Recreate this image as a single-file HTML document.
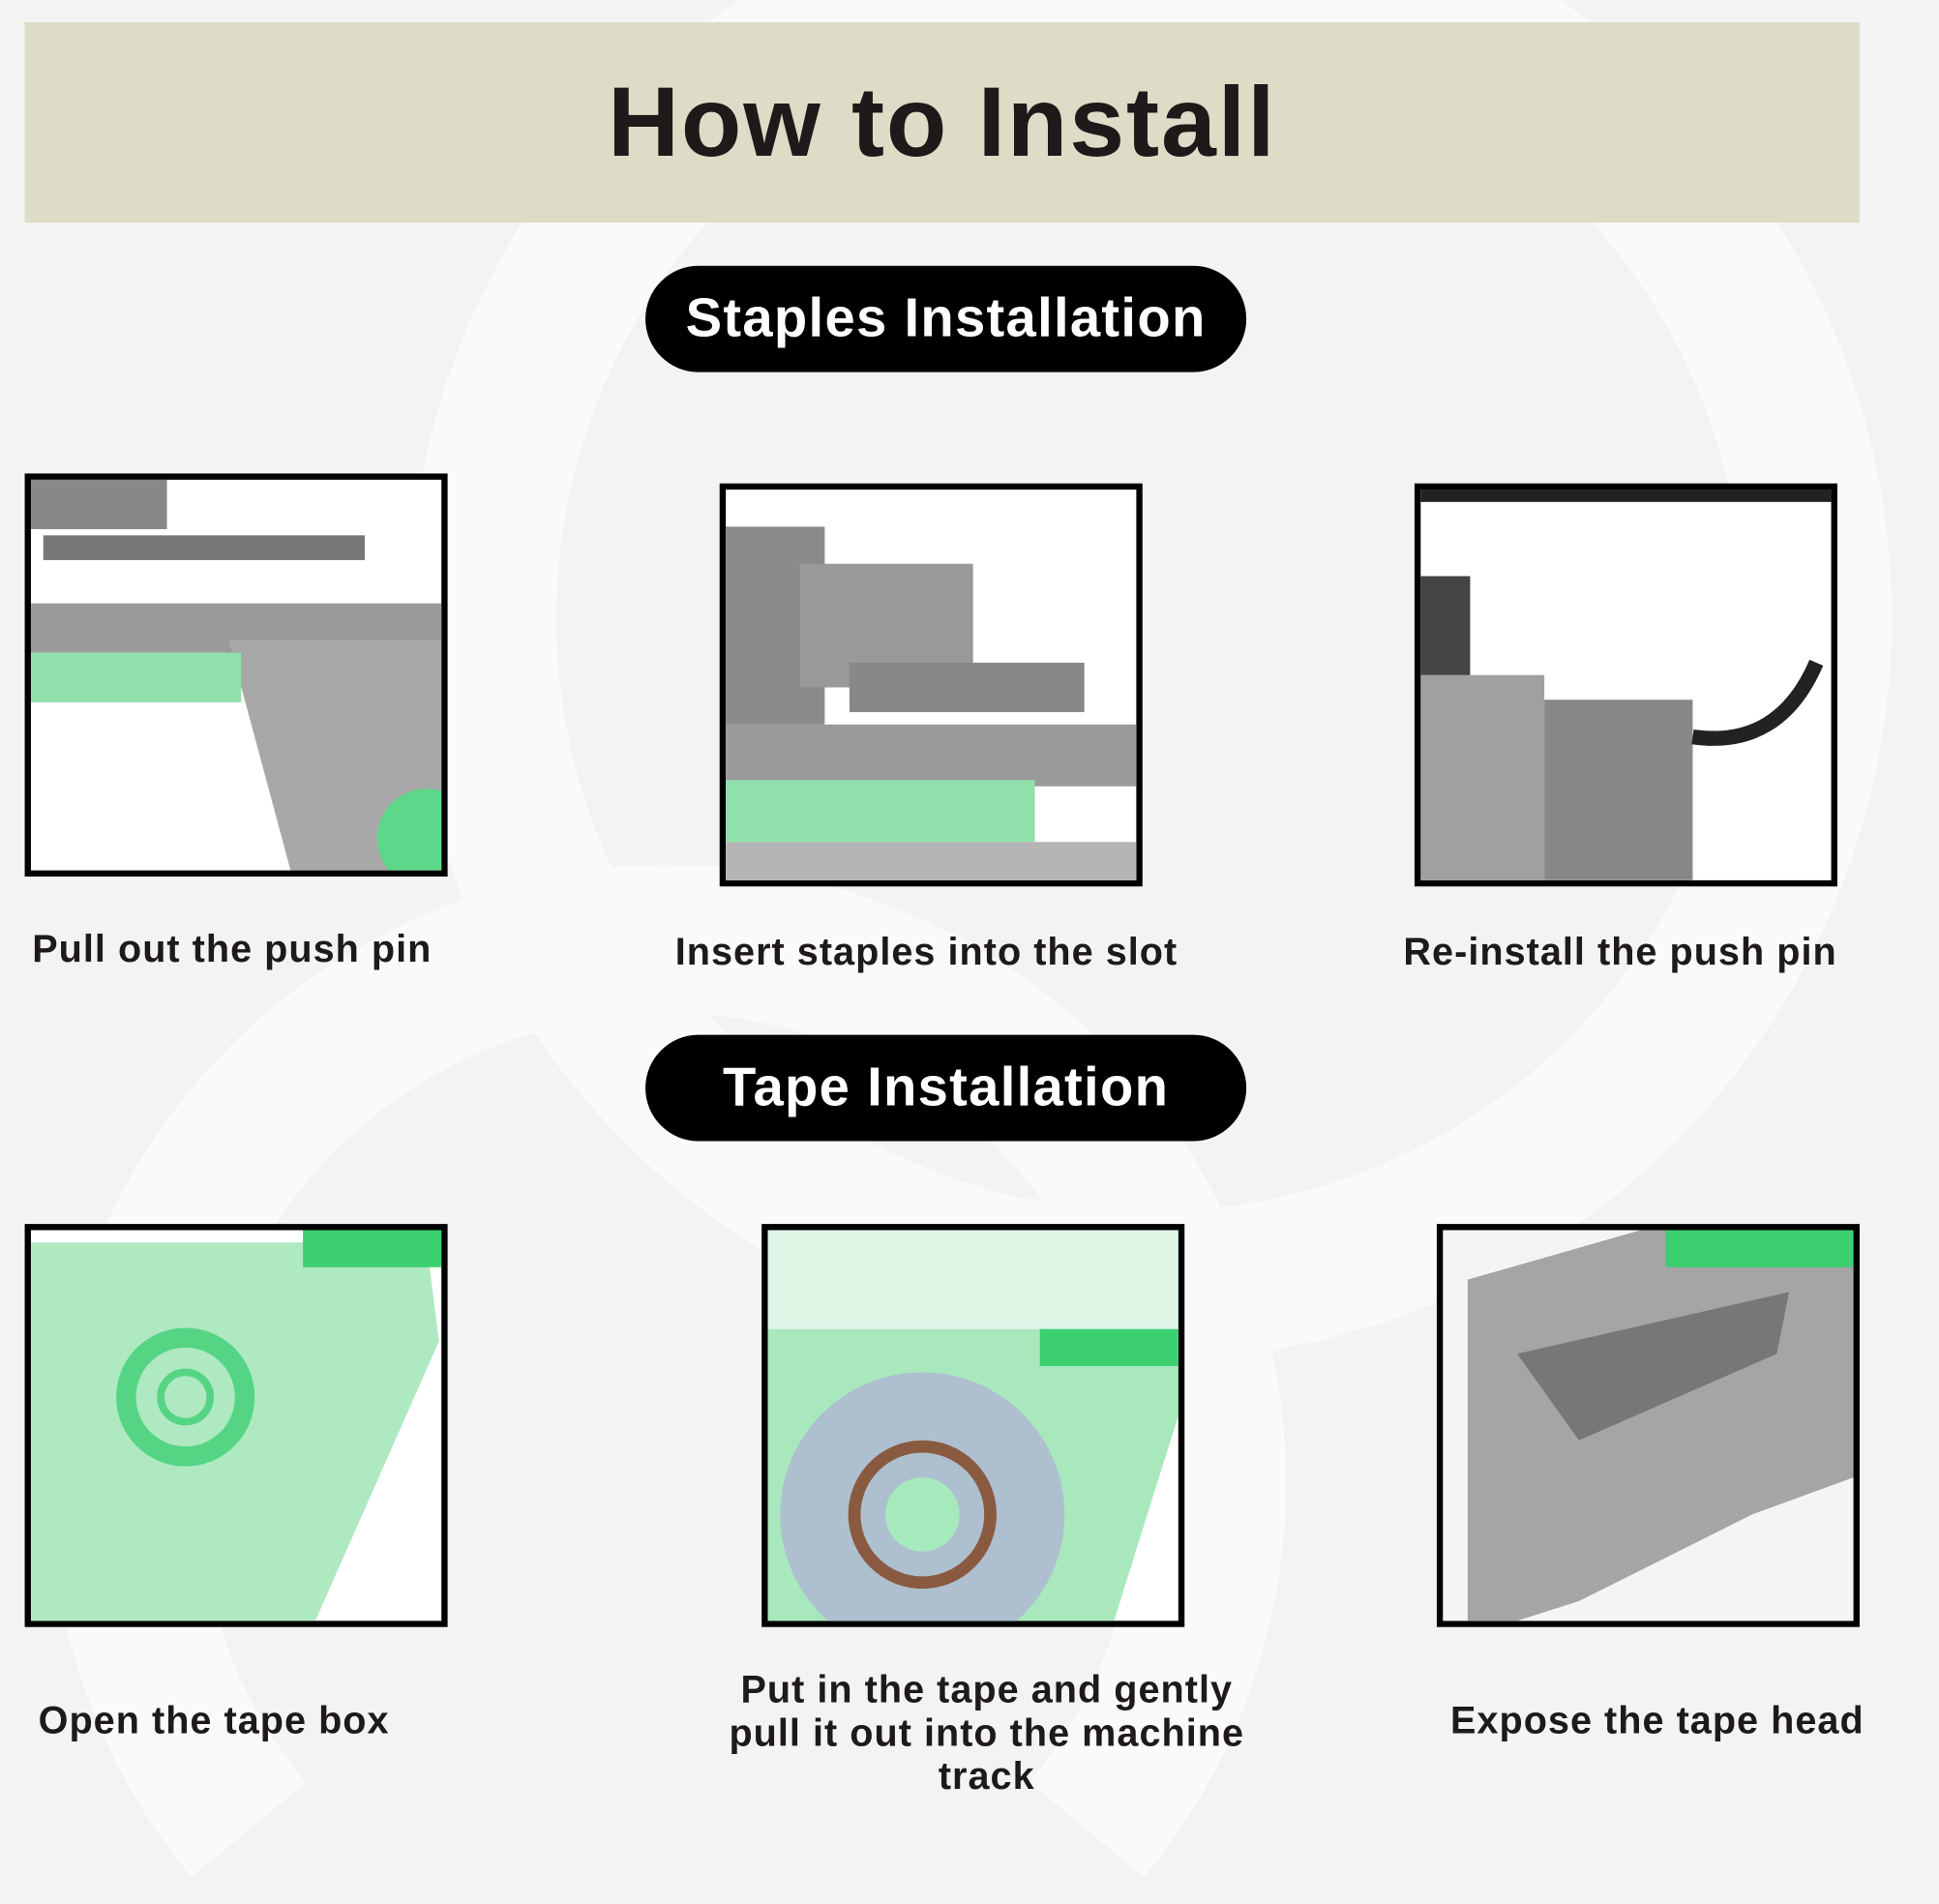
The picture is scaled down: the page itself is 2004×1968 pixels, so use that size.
<!DOCTYPE html>
<html><head><meta charset="utf-8"><style>
html,body{margin:0;padding:0;width:2004px;height:1968px;overflow:hidden;background:#f3f3f3}
#w{position:relative;width:2004px;height:1968px;overflow:hidden}
#s{position:absolute;left:0;top:0;width:1568px;height:1540px;transform:scale(1.2779,1.2779);transform-origin:0 0;font-family:"Liberation Sans",sans-serif;font-weight:bold;color:#1e1a1a;overflow:hidden}
.a{position:absolute}
.hdr{left:20px;top:18px;width:1484px;height:162px;background:#dcdcc7;text-align:center;line-height:162px;font-size:80px;letter-spacing:1.5px}
.pill{left:522px;width:486px;height:86px;background:#000;border-radius:43px;color:#fff;text-align:center;line-height:86px;font-size:44px;letter-spacing:1px}
.box{border:5px solid #000;background:#fff;overflow:hidden;box-sizing:border-box;width:342px;height:326px}
.cap{font-size:31px;white-space:nowrap;letter-spacing:0.8px}
</style></head><body><div id="w"><div id="s">
<svg class="a" style="left:0;top:0" width="1568" height="1540"><circle cx="930" cy="500" r="540" fill="none" stroke="#fafafa" stroke-width="120"/><path d="M201 1480 A440 440 0 1 1 879 1480" fill="none" stroke="#fafafa" stroke-width="120"/></svg>
<div class="a hdr">How to Install</div>
<div class="a pill" style="top:215px">Staples Installation</div>
<div class="a pill" style="top:837px">Tape Installation</div>

<div class="a box" style="left:20px;top:383px"><svg width="332" height="316"><rect x="0" y="100" width="332" height="40" fill="#9a9a9a"/><polygon points="160,130 332,130 332,316 210,316" fill="#a8a8a8"/><rect x="0" y="140" width="170" height="40" fill="#8fe0aa"/><rect x="10" y="45" width="260" height="20" fill="#777"/><rect x="0" y="0" width="110" height="40" fill="#888"/><circle cx="320" cy="290" r="40" fill="#5dd88a"/></svg></div>
<div class="a box" style="left:582px;top:391px"><svg width="332" height="316"><rect x="0" y="30" width="80" height="160" fill="#8a8a8a"/><rect x="60" y="60" width="140" height="100" fill="#999"/><rect x="100" y="140" width="190" height="40" fill="#888"/><rect x="0" y="190" width="332" height="50" fill="#9a9a9a"/><rect x="0" y="235" width="250" height="50" fill="#8fe0aa"/><polygon points="0,285 332,285 332,316 0,316" fill="#b5b5b5"/></svg></div>
<div class="a box" style="left:1144px;top:391px"><svg width="332" height="316"><rect x="0" y="0" width="332" height="10" fill="#222"/><rect x="0" y="150" width="100" height="166" fill="#a0a0a0"/><rect x="100" y="170" width="120" height="146" fill="#888"/><path d="M220 200 Q290 210 320 140" stroke="#222" stroke-width="12" fill="none"/><rect x="0" y="70" width="40" height="80" fill="#444"/></svg></div>

<div class="a box" style="left:20px;top:990px"><svg width="332" height="316"><path d="M0 10 L320 10 L330 90 L230 316 L0 316Z" fill="#aee9c2"/><circle cx="125" cy="135" r="48" fill="none" stroke="#55d584" stroke-width="16"/><circle cx="125" cy="135" r="20" fill="none" stroke="#55d584" stroke-width="6"/><rect x="220" y="0" width="112" height="30" fill="#3ccf70"/></svg></div>
<div class="a box" style="left:616px;top:990px"><svg width="332" height="316"><rect x="0" y="0" width="332" height="80" fill="#dff5e6"/><path d="M0 80 L332 80 L332 150 L280 316 L0 316Z" fill="#a9e8bd"/><circle cx="125" cy="230" r="115" fill="#aebfd0"/><circle cx="125" cy="230" r="55" fill="none" stroke="#8a5a40" stroke-width="10"/><circle cx="125" cy="230" r="30" fill="#a6e9bd"/><rect x="220" y="80" width="112" height="30" fill="#3ccf70"/></svg></div>
<div class="a box" style="left:1162px;top:990px"><svg width="332" height="316"><rect x="0" y="0" width="332" height="316" fill="#f4f4f4"/><polygon points="20,40 160,0 332,0 332,200 250,230 110,300 60,316 20,316" fill="#a5a5a5"/><polygon points="60,100 280,50 270,100 110,170" fill="#777"/><rect x="180" y="0" width="152" height="30" fill="#3ccf70"/></svg></div>

<div class="a cap" style="left:26px;top:750px">Pull out the push pin</div>
<div class="a cap" style="left:546px;top:752px">Insert staples into the slot</div>
<div class="a cap" style="left:1135px;top:752px">Re-install the push pin</div>
<div class="a cap" style="left:31px;top:1374px">Open the tape box</div>
<div class="a cap" style="left:578px;top:1349px;width:440px;text-align:center;white-space:normal;line-height:35px">Put in the tape and gently pull it out into the machine track</div>
<div class="a cap" style="left:1173px;top:1374px">Expose the tape head</div>
</div></div></body></html>
